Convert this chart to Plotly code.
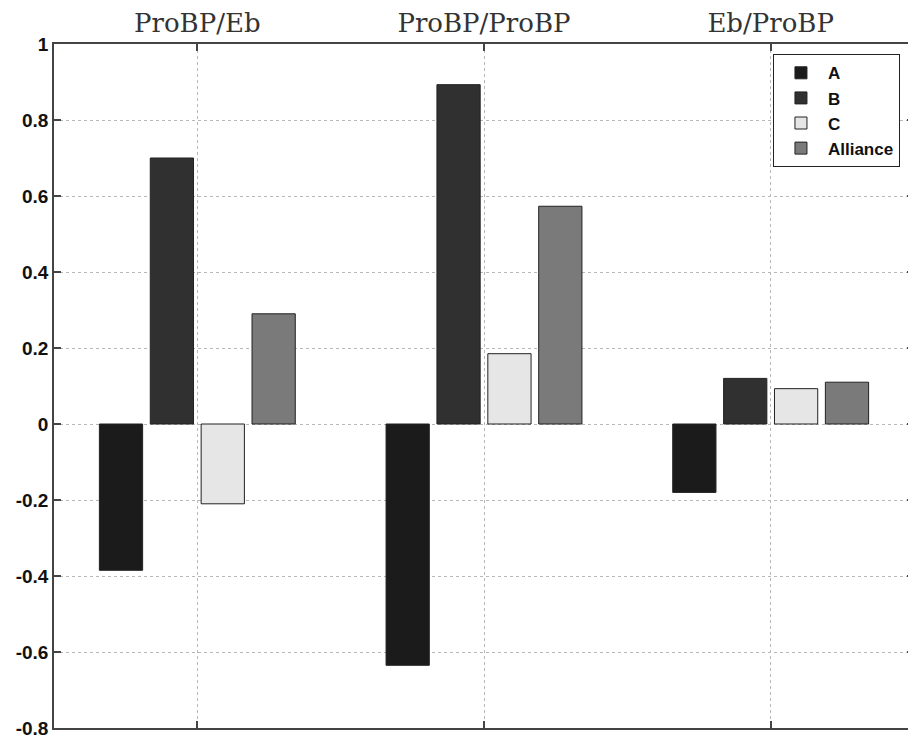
import plotly.graph_objects as go

categories = ["ProBP/Eb", "ProBP/ProBP", "Eb/ProBP"]
series_names = ["A", "B", "C", "Alliance"]
values_A = [-0.385, -0.635, -0.18]
values_B = [0.70, 0.893, 0.12]
values_C = [-0.21, 0.185, 0.093]
values_Alliance = [0.29, 0.573, 0.11]
y_tick_vals = [1, 0.8, 0.6, 0.4, 0.2, 0, -0.2, -0.4, -0.6, -0.8]
y_tick_text = ["1", "0.8", "0.6", "0.4", "0.2", "0", "-0.2", "-0.4", "-0.6", "-0.8"]

colors = ["#1b1b1b", "#303030", "#e6e6e6", "#7a7a7a"]
all_values = [values_A, values_B, values_C, values_Alliance]

fig = go.Figure()
for name, vals, col in zip(series_names, all_values, colors):
    fig.add_trace(go.Bar(
        x=categories, y=vals, name=name,
        marker=dict(color=col, line=dict(color="#222222", width=1)),
    ))

# page body has an 8px default margin, so the figure is sized to fill the rest
fig.update_layout(
    width=908, height=734,
    margin=dict(l=46, r=2, t=36, b=14, autoexpand=False),
    paper_bgcolor="white", plot_bgcolor="white",
    barmode="group", bargap=0.29, bargroupgap=0.15,
    showlegend=True,
    legend=dict(
        x=0.836, y=0.985, xanchor="left", yanchor="top",
        bgcolor="white", bordercolor="#222222", borderwidth=1,
        font=dict(family="Liberation Sans, Arial, sans-serif", size=17, color="#111111", weight="bold"),
        tracegroupgap=0, itemwidth=44,
    ),
    xaxis=dict(
        type="category", range=[-0.5, 2.5], side="top", automargin=False,
        showline=True, linecolor="#444444", linewidth=1.5, mirror="ticks",
        ticks="inside", ticklen=7, tickcolor="#444444", tickwidth=1.5,
        showgrid=True, gridcolor="#b8b8b8", griddash="dot", gridwidth=1,
        tickfont=dict(family="DejaVu Serif, Liberation Serif, serif", size=26, color="#333333"),
        zeroline=False, fixedrange=True,
    ),
    yaxis=dict(
        range=[-0.8, 1.0], tickmode="array", tickvals=y_tick_vals, ticktext=y_tick_text,
        automargin=False,
        showline=True, linecolor="#444444", linewidth=1.5, mirror="ticks",
        ticks="inside", ticklen=7, tickcolor="#444444", tickwidth=1.5,
        showgrid=True, gridcolor="#b8b8b8", griddash="dot", gridwidth=1,
        tickfont=dict(family="Liberation Sans, Arial, sans-serif", size=19, color="#111111", weight="bold"),
        zeroline=False, fixedrange=True,
    ),
)

fig.write_html("out.html")
